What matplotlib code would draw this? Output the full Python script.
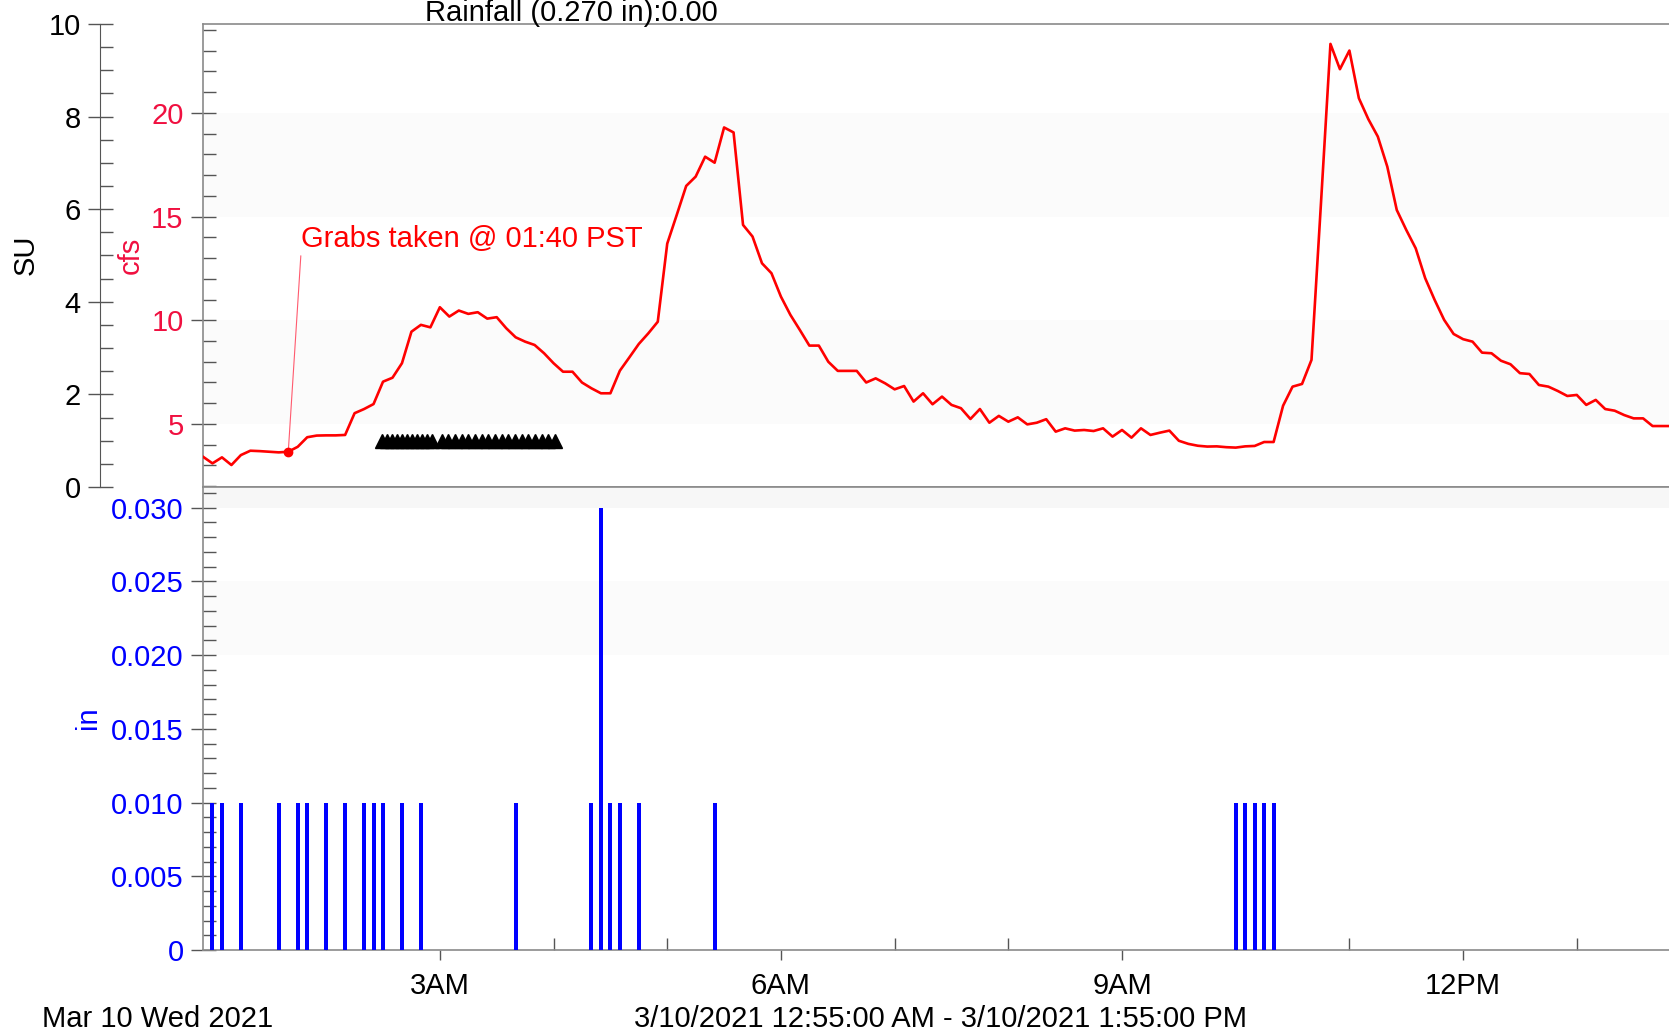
import numpy as np
import matplotlib
matplotlib.use('Agg')
import matplotlib.pyplot as plt
from matplotlib.ticker import MultipleLocator, FuncFormatter

plt.rcParams['font.family'] = ['Liberation Sans', 'DejaVu Sans']

# flow (cfs), one reading every 5 minutes starting 00:55
flow_start = 55
flow_step = 5
flow_cfs = [
    3.42, 3.10, 3.39, 3.02, 3.50, 3.71, 3.69, 3.66, 3.63, 3.66,
    3.90, 4.36, 4.44, 4.45, 4.45, 4.47, 5.52, 5.72, 5.96, 7.04,
    7.23, 7.93, 9.45, 9.78, 9.66, 10.63, 10.18, 10.47, 10.31, 10.39,
    10.08, 10.15, 9.62, 9.18, 8.97, 8.81, 8.41, 7.93, 7.52, 7.52,
    7.00, 6.72, 6.48, 6.48, 7.57, 8.21, 8.86, 9.37, 9.93, 13.70,
    15.08, 16.48, 16.93, 17.89, 17.60, 19.30, 19.06, 14.60, 14.04, 12.75,
    12.27, 11.14, 10.26, 9.53, 8.78, 8.78, 8.00, 7.56, 7.56, 7.56,
    7.00, 7.20, 6.96, 6.67, 6.83, 6.08, 6.48, 5.95, 6.32, 5.92,
    5.76, 5.24, 5.72, 5.06, 5.39, 5.11, 5.32, 4.98, 5.06, 5.23,
    4.63, 4.79, 4.68, 4.71, 4.66, 4.79, 4.39, 4.71, 4.34, 4.79,
    4.47, 4.58, 4.68, 4.19, 4.04, 3.95, 3.91, 3.92, 3.88, 3.86,
    3.92, 3.94, 4.13, 4.13, 5.88, 6.80, 6.93, 8.09, 15.65, 23.33,
    22.11, 23.01, 20.71, 19.70, 18.86, 17.41, 15.32, 14.36, 13.47, 12.03,
    10.98, 10.02, 9.34, 9.09, 8.97, 8.44, 8.41, 8.05, 7.88, 7.45,
    7.41, 6.88, 6.80, 6.59, 6.35, 6.40, 5.92, 6.16, 5.72, 5.64,
    5.43, 5.27, 5.27, 4.90, 4.90, 4.90, 4.90,
]

# rainfall (in) per 5-minute interval
rain_times = ['1:00', '1:05', '1:15', '1:35', '1:45', '1:50', '2:00', '2:10',
              '2:20', '2:25', '2:30', '2:40', '2:50', '3:40', '4:20', '4:25',
              '4:30', '4:35', '4:45', '5:25', '10:00', '10:05', '10:10',
              '10:15', '10:20']
rain_in = [0.01, 0.01, 0.01, 0.01, 0.01, 0.01, 0.01, 0.01,
           0.01, 0.01, 0.01, 0.01, 0.01, 0.01, 0.01, 0.03,
           0.01, 0.01, 0.01, 0.01, 0.01, 0.01, 0.01,
           0.01, 0.01]

# pH readings (SU), minutes after midnight
ph_minutes = [149.3, 151.9, 154.6, 157.2, 159.8, 162.5, 165.1, 167.8, 170.4,
              173.0, 175.7, 181.0, 184.5, 188.0, 191.5, 195.0, 198.5, 202.1,
              205.6, 209.1, 212.6, 216.1, 219.6, 223.2, 226.7, 230.2, 233.7,
              237.2, 240.7]
ph_su = [1.0] * len(ph_minutes)

grab_minute = 100  # 01:40

x_ticks = [180, 360, 540, 720]
x_tick_labels = ['3AM', '6AM', '9AM', '12PM']

flow_x = flow_start + flow_step * np.arange(len(flow_cfs))
rain_x = [int(t.split(':')[0]) * 60 + int(t.split(':')[1]) for t in rain_times]

W, H = 1669, 1031
fig = plt.figure(figsize=(W / 100, H / 100), dpi=100)
left = 203 / W
width = (1681 - 203) / W
ax = fig.add_axes([left, 1 - 487 / H, width, 463 / H])
ax_rain = fig.add_axes([left, 1 - 950 / H, width, 463 / H])

frame = '#8a8a8a'
tickc = '#555555'
cfs_color = '#f01040'
band = '#fbfbfb'


def style_y(a, color):
    a.tick_params(axis='y', which='major', direction='inout', length=18, width=1,
                  color=tickc, labelsize=21, labelcolor=color, pad=5)
    a.tick_params(axis='y', which='minor', direction='in', length=9, width=1,
                  color=tickc)


for a in (ax, ax_rain):
    a.set_xlim(55, 835)
    a.spines['right'].set_visible(False)
    for s in ('left', 'top', 'bottom'):
        a.spines[s].set_color(frame)
        a.spines[s].set_linewidth(1.2)

# flow panel
ax.axhspan(5, 10, color=band, zorder=0, lw=0)
ax.axhspan(15, 20, color=band, zorder=0, lw=0)
ax.plot(flow_x, flow_cfs, color='red', lw=1.9, zorder=3)
grab_cfs = flow_cfs[(grab_minute - flow_start) // flow_step]
ax.plot(grab_minute, grab_cfs, 'o', color='red', ms=6, zorder=4)
ax.annotate('Grabs taken @ 01:40 PST', xy=(grab_minute, grab_cfs),
            xytext=(301, H - 239), textcoords='figure pixels',
            ha='left', va='center', color='red', fontsize=21,
            arrowprops=dict(arrowstyle='-', color='#ff5a6e', lw=0.8,
                            relpos=(0, 0), shrinkA=0, shrinkB=0))
ax.set_ylim(1.96, 24.29)
ax.yaxis.set_major_locator(MultipleLocator(5))
ax.yaxis.set_minor_locator(MultipleLocator(1))
ax.tick_params(axis='x', which='both', bottom=False, labelbottom=False)
style_y(ax, cfs_color)

# SU axis
ax_su = ax.twinx()
ax_su.set_ylim(0, 10)
for s in ('right', 'top', 'bottom'):
    ax_su.spines[s].set_visible(False)
ax_su.spines['left'].set_visible(True)
ax_su.spines['left'].set_position(('axes', -103 / 1478))
ax_su.spines['left'].set_color(tickc)
ax_su.yaxis.set_ticks_position('left')
ax_su.yaxis.set_label_position('left')
ax_su.yaxis.set_major_locator(MultipleLocator(2))
ax_su.yaxis.set_minor_locator(MultipleLocator(0.5))
style_y(ax_su, 'black')
ax_su.plot(ph_minutes, ph_su, linestyle='none', marker='^', markersize=10.5,
           color='black', zorder=5)

# rainfall panel
ax_rain.axhspan(0.020, 0.025, color=band, zorder=0, lw=0)
ax_rain.axhspan(0.030, 0.0314, color='#f7f7f7', zorder=0, lw=0)
ax_rain.bar(rain_x, rain_in, width=2.1, color='blue', zorder=3)
ax_rain.set_ylim(0, 0.0314)
ax_rain.yaxis.set_major_locator(MultipleLocator(0.005))
ax_rain.yaxis.set_minor_locator(MultipleLocator(0.001))
ax_rain.yaxis.set_major_formatter(FuncFormatter(lambda v, p: '0' if abs(v) < 1e-9 else f'{v:.3f}'))
style_y(ax_rain, 'blue')
ax_rain.set_xticks(x_ticks)
ax_rain.set_xticklabels(x_tick_labels)
ax_rain.xaxis.set_minor_locator(MultipleLocator(60))
ax_rain.tick_params(axis='x', which='major', direction='out', length=7, width=1,
                    color=tickc, labelsize=21, pad=9)
ax_rain.tick_params(axis='x', which='minor', direction='in', length=9, width=1,
                    color=tickc)

# labels
fig.text(26 / W, 1 - 255 / H, 'SU', rotation=90, ha='center', va='center', fontsize=21)
fig.text(131 / W, 1 - 255 / H, 'cfs', rotation=90, ha='center', va='center',
         fontsize=21, color=cfs_color)
fig.text(88 / W, 1 - 718 / H, 'in', rotation=90, ha='center', va='center',
         fontsize=21, color='blue')
fig.text(571 / W, 1 - 21 / H, 'Rainfall (0.270 in):0.00', ha='center',
         va='baseline', fontsize=21)
fig.text(42 / W, 1 - 1027 / H, 'Mar 10 Wed 2021', ha='left', va='baseline', fontsize=21)
fig.text(940 / W, 1 - 1027 / H, '3/10/2021 12:55:00 AM - 3/10/2021 1:55:00 PM',
         ha='center', va='baseline', fontsize=21)

fig.savefig('out.png', dpi=100)
